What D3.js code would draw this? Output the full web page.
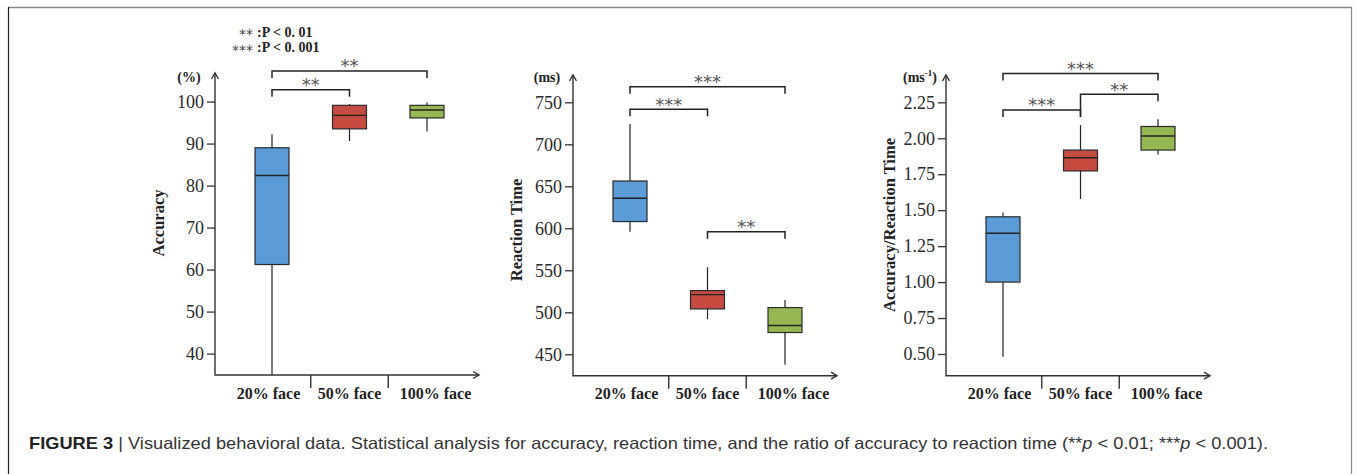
<!DOCTYPE html>
<html>
<head>
<meta charset="utf-8">
<script src="https://cdn.jsdelivr.net/npm/d3@7"></script>
<style>
	html, body { margin: 0; padding: 0; background: #fff; }
	svg { display: block; }
</style>
</head>
<body>
<script>
// ---- data ----
const groups = ["20% face", "50% face", "100% face"];
const groupColors = ["#5b9bd7", "#c64b40", "#96b853"];

// five-number summaries: [min, q1, median, q3, max]
const accuracyBoxes = [[34.9, 61.2, 82.4, 89.0, 92.2], [90.6, 93.5, 96.7, 99.1, 99.4], [92.9, 96.1, 98.0, 99.1, 99.8]];
const reactionBoxes = [[596, 608, 635.7, 656.3, 724.2], [491.7, 504, 521, 525.8, 553.6], [437.4, 475.9, 484.2, 505.6, 514.7]];
const ratioBoxes = [[0.48, 1.0, 1.34, 1.454, 1.484], [1.578, 1.773, 1.865, 1.918, 2.092], [1.888, 1.918, 2.016, 2.082, 2.133]];

const accuracyTicks = [40, 50, 60, 70, 80, 90, 100];
const reactionTicks = [450, 500, 550, 600, 650, 700, 750];
const ratioTicks = [0.5, 0.75, 1.0, 1.25, 1.5, 1.75, 2.0, 2.25];

// [from group, to group, bracket level, label, optional left leg end level]
const accuracyBrackets = [[0, 1, 102.8, "**"], [0, 2, 107.3, "**"]];
const reactionBrackets = [[0, 2, 768.6, "***"], [0, 1, 741.7, "***"], [1, 2, 595.9, "**"]];
const ratioBrackets = [[0, 2, 2.451, "***"], [0, 1, 2.197, "***"], [1, 2, 2.306, "**", 2.15]];

const legendStars = ["**", "***"];
const legendTexts = [":P < 0. 01", ":P < 0. 001"];

// ---- layout ----
const WIDTH = 1356, HEIGHT = 474;
const SERIF = "'Liberation Serif', 'Times New Roman', serif";
const AXIS_COLOR = "#333";
const BOX_WIDTH = 34;
const BAND = 77.5;
const LEG = 7;

const svg = d3.select("body").append("svg")
	.attr("width", WIDTH)
	.attr("height", HEIGHT);

// frame
svg.append("line").attr("x1", 8).attr("x2", 1352).attr("y1", 7.5).attr("y2", 7.5)
	.attr("stroke", "#888").attr("stroke-width", 1.5);
svg.append("line").attr("x1", 8.5).attr("x2", 8.5).attr("y1", 7).attr("y2", HEIGHT)
	.attr("stroke", "#222").attr("stroke-width", 1.2);
svg.append("line").attr("x1", 1351.5).attr("x2", 1351.5).attr("y1", 7).attr("y2", HEIGHT)
	.attr("stroke", "#888").attr("stroke-width", 1.2);

const panels = [
	{ x0: 215, domain: [34.9, 106.8], top: 73, bottom: 375, boxes: accuracyBoxes, ticks: accuracyTicks,
	  format: d3.format("d"), brackets: accuracyBrackets, unit: "(%)", title: "Accuracy", titleY: 223 },
	{ x0: 573, domain: [424.5, 782.5], top: 75, bottom: 375.7, boxes: reactionBoxes, ticks: reactionTicks,
	  format: d3.format("d"), brackets: reactionBrackets, unit: "(ms)", title: "Reaction Time", titleY: 230 },
	{ x0: 946, domain: [0.349, 2.44], top: 75, bottom: 375.7, boxes: ratioBoxes, ticks: ratioTicks,
	  format: d3.format(".2f"), brackets: ratioBrackets, unit: "(ms-1)", title: "Accuracy/Reaction Time", titleY: 225 }
];

panels.forEach(drawPanel);

function drawPanel(p) {
	const g = svg.append("g");

	const y = d3.scaleLinear()
		.domain(p.domain)
		.range([p.bottom, p.top]);

	const x = d3.scaleBand()
		.domain(groups)
		.range([p.x0 + 57 - BAND / 2, p.x0 + 57 + BAND * 2.5]);

	const xEnd = p.x0 + 264;

	// y axis ticks
	const yAxis = d3.axisLeft(y)
		.tickValues(p.ticks)
		.tickFormat(p.format)
		.tickSizeInner(8)
		.tickSizeOuter(0)
		.tickPadding(3);
	const yAxisGroup = g.append("g")
		.attr("transform", `translate(${p.x0},0)`)
		.call(yAxis);
	yAxisGroup.select(".domain").remove();
	yAxisGroup.selectAll(".tick line")
		.attr("stroke", AXIS_COLOR)
		.attr("stroke-width", 1.3);
	yAxisGroup.selectAll(".tick text")
		.attr("fill", "#2a2a2a")
		.style("font-family", SERIF)
		.style("font-size", "18px");

	// axis lines with open arrowheads
	const axisPath = g.append("g")
		.attr("stroke", AXIS_COLOR)
		.attr("stroke-width", 1.4)
		.attr("fill", "none");
	axisPath.append("path")
		.attr("d", `M${p.x0},${p.top}V${p.bottom}H${xEnd}`);
	axisPath.append("path")
		.attr("d", `M${p.x0 - 3.5},${p.top + 6}L${p.x0},${p.top}L${p.x0 + 3.5},${p.top + 6}`);
	axisPath.append("path")
		.attr("d", `M${xEnd - 6},${p.bottom - 3.5}L${xEnd},${p.bottom}L${xEnd - 6},${p.bottom + 3.5}`);

	// dividers between categories
	axisPath.selectAll(".divider")
		.data(groups.slice(1))
		.join("line")
		.attr("class", "divider")
		.attr("x1", d => x(d))
		.attr("x2", d => x(d))
		.attr("y1", p.bottom)
		.attr("y2", p.bottom + 13);

	// category labels
	const labelShift = [-3.5, 0, 8.5];
	g.selectAll(".cat")
		.data(groups)
		.join("text")
		.attr("class", "cat")
		.attr("x", (d, i) => x(d) + x.bandwidth() / 2 + labelShift[i])
		.attr("y", 399)
		.attr("text-anchor", "middle")
		.attr("fill", "#222")
		.style("font-family", SERIF)
		.style("font-weight", "bold")
		.style("font-size", "16px")
		.text(d => d);

	// unit label
	const unit = g.append("text")
		.attr("x", p.x0 - 26)
		.attr("y", 81.5)
		.attr("text-anchor", "middle")
		.attr("fill", "#222")
		.style("font-family", SERIF)
		.style("font-weight", "bold")
		.style("font-size", "14px");
	if (p.unit === "(ms-1)") {
		unit.append("tspan").text("(ms");
		unit.append("tspan").attr("dy", -6).style("font-size", "9px").text("-1");
		unit.append("tspan").attr("dy", 6).text(")");
	} else {
		unit.text(p.unit);
	}

	// axis title
	g.append("text")
		.attr("transform", `translate(${p.x0 - 51},${p.titleY}) rotate(-90)`)
		.attr("text-anchor", "middle")
		.attr("fill", "#222")
		.style("font-family", SERIF)
		.style("font-weight", "bold")
		.style("font-size", "16.5px")
		.text(p.title);

	// boxes
	const boxes = g.selectAll(".box")
		.data(p.boxes)
		.join("g")
		.attr("class", "box")
		.attr("transform", (d, i) => `translate(${x(groups[i]) + x.bandwidth() / 2},0)`);

	boxes.append("line")
		.attr("y1", d => y(d[0]))
		.attr("y2", d => y(d[4]))
		.attr("stroke", "#222")
		.attr("stroke-width", 1.2);

	boxes.append("rect")
		.attr("x", -BOX_WIDTH / 2)
		.attr("y", d => y(d[3]))
		.attr("width", BOX_WIDTH)
		.attr("height", d => y(d[1]) - y(d[3]))
		.attr("fill", (d, i) => groupColors[i])
		.attr("stroke", "#2a2a2a")
		.attr("stroke-width", 1.2);

	boxes.append("line")
		.attr("x1", -BOX_WIDTH / 2)
		.attr("x2", BOX_WIDTH / 2)
		.attr("y1", d => y(d[2]))
		.attr("y2", d => y(d[2]))
		.attr("stroke", "#222")
		.attr("stroke-width", 1.4);

	// significance brackets
	const cx = i => x(groups[i]) + x.bandwidth() / 2;
	const br = g.selectAll(".bracket")
		.data(p.brackets)
		.join("g")
		.attr("class", "bracket");

	br.append("path")
		.attr("d", d => {
			const yl = y(d[2]);
			const leftEnd = d[4] !== undefined ? y(d[4]) : yl + LEG;
			return `M${cx(d[0])},${leftEnd}V${yl}H${cx(d[1])}V${yl + LEG}`;
		})
		.attr("fill", "none")
		.attr("stroke", "#222")
		.attr("stroke-width", 1.5);

	br.append("text")
		.attr("x", d => (cx(d[0]) + cx(d[1])) / 2)
		.attr("y", d => y(d[2]) + 1.5)
		.attr("text-anchor", "middle")
		.attr("fill", "#555")
		.style("font-family", "'DejaVu Sans', sans-serif")
		.style("font-size", "18px")
		.text(d => d[3]);
}

// p-value legend
const legend = svg.append("g");
legend.selectAll(".lstar")
	.data(legendStars)
	.join("text")
	.attr("class", "lstar")
	.attr("x", 253)
	.attr("y", (d, i) => 39 + i * 15.5)
	.attr("text-anchor", "end")
	.attr("fill", "#444")
	.style("font-family", "'DejaVu Sans', sans-serif")
	.style("font-size", "14px")
	.text(d => d);
legend.selectAll(".ltext")
	.data(legendTexts)
	.join("text")
	.attr("class", "ltext")
	.attr("x", 257)
	.attr("y", (d, i) => 36.5 + i * 15.5)
	.attr("fill", "#222")
	.style("font-family", SERIF)
	.style("font-weight", "bold")
	.style("font-size", "14px")
	.text(d => d);

// caption
const caption = svg.append("text")
	.attr("x", 29)
	.attr("y", 449)
	.attr("textLength", 1239)
	.attr("lengthAdjust", "spacingAndGlyphs")
	.attr("fill", "#333")
	.style("font-family", "'Liberation Sans', Arial, sans-serif")
	.style("font-size", "16.5px");
caption.append("tspan").style("font-weight", "bold").attr("fill", "#222").text("FIGURE 3");
caption.append("tspan").text("  |  Visualized behavioral data. Statistical analysis for accuracy, reaction time, and the ratio of accuracy to reaction time (**");
caption.append("tspan").style("font-style", "italic").text("p");
caption.append("tspan").text(" < 0.01; ***");
caption.append("tspan").style("font-style", "italic").text("p");
caption.append("tspan").text(" < 0.001).");
</script>
</body>
</html>
